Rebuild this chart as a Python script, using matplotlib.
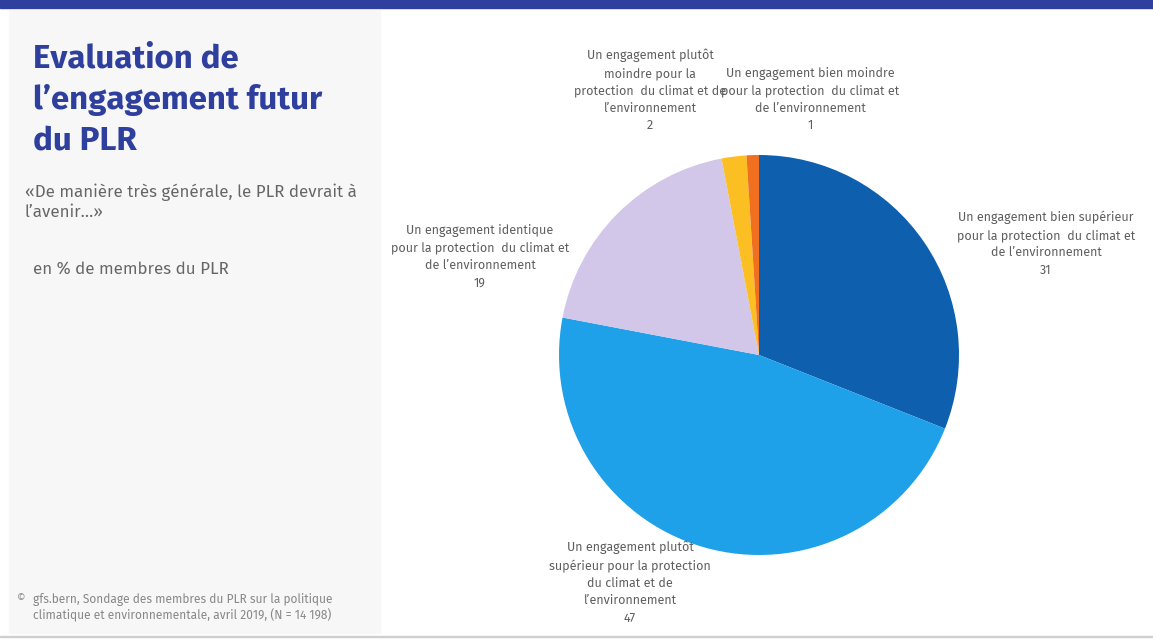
import matplotlib.pyplot as plt
from matplotlib.patches import Rectangle

plt.rcParams['font.family'] = ['Fira Sans', 'Open Sans', 'DejaVu Sans']

# data
categories = [
    "Un engagement bien supérieur\npour la protection  du climat et\nde l’environnement",
    "Un engagement plutôt\nsupérieur pour la protection\ndu climat et de\nl’environnement",
    "Un engagement identique\npour la protection  du climat et\nde l’environnement",
    "Un engagement plutôt\nmoindre pour la\nprotection  du climat et de\nl’environnement",
    "Un engagement bien moindre\npour la protection  du climat et\nde l’environnement",
]
values = [31, 47, 19, 2, 1]
colors = ['#0e5fae', '#1fa1e9', '#d2c6e9', '#fbbf24', '#f0701f']

# label anchor (x px, top y px) for each category
label_pos = [(1046, 211), (630, 541), (480, 224), (650, 49), (810, 67)]

W, H = 1153, 639
fig = plt.figure(figsize=(W / 100, H / 100), dpi=100)

# background shapes
fig.patches.append(Rectangle((0, 1 - 8 / H), 1, 8 / H, transform=fig.transFigure,
                             color='#2f3f9d', zorder=0))
fig.patches.append(Rectangle((9 / W, 1 - 633 / H), 371 / W, 623 / H, transform=fig.transFigure,
                             color='#f7f7f7', zorder=0))
fig.patches.append(Rectangle((0, 1 - 637 / H), 1, 1.5 / H, transform=fig.transFigure,
                             color='#cfcfcf', zorder=0))

# left panel texts
fig.text(33 / W, 1 - 43 / H, "Evaluation de\nl’engagement futur\ndu PLR", fontsize=23.8,
         fontweight='bold', color='#2f3f9d', va='top', ha='left', linespacing=1.37)
fig.text(25 / W, 1 - 184 / H, "«De manière très générale, le PLR devrait à\nl’avenir…»",
         fontsize=12.2, color='#666666', va='top', ha='left', linespacing=1.25)
fig.text(33 / W, 1 - 261 / H, "en % de membres du PLR", fontsize=12.2, color='#666666',
         va='top', ha='left')
fig.text(17 / W, 1 - 593 / H, "©", fontsize=7.5, color='#888888', va='top', ha='left')
fig.text(33 / W, 1 - 593 / H,
         "gfs.bern, Sondage des membres du PLR sur la politique\nclimatique et environnementale, avril 2019, (N = 14 198)",
         fontsize=8.6, color='#888888', va='top', ha='left', linespacing=1.2)

# pie
ax = fig.add_axes([559 / W, 1 - 555 / H, 400 / W, 400 / H])
ax.pie(values, colors=colors, startangle=90, counterclock=False, radius=1,
       wedgeprops=dict(linewidth=0))
ax.set_xlim(-1, 1)
ax.set_ylim(-1, 1)
ax.set_aspect('equal')
ax.axis('off')

for cat, val, (px, py) in zip(categories, values, label_pos):
    fig.text(px / W, 1 - py / H, f"{cat}\n{val}", fontsize=9, color='#5e5e5e',
             ha='center', va='top', linespacing=1.48)

fig.savefig('out.png', dpi=100)
